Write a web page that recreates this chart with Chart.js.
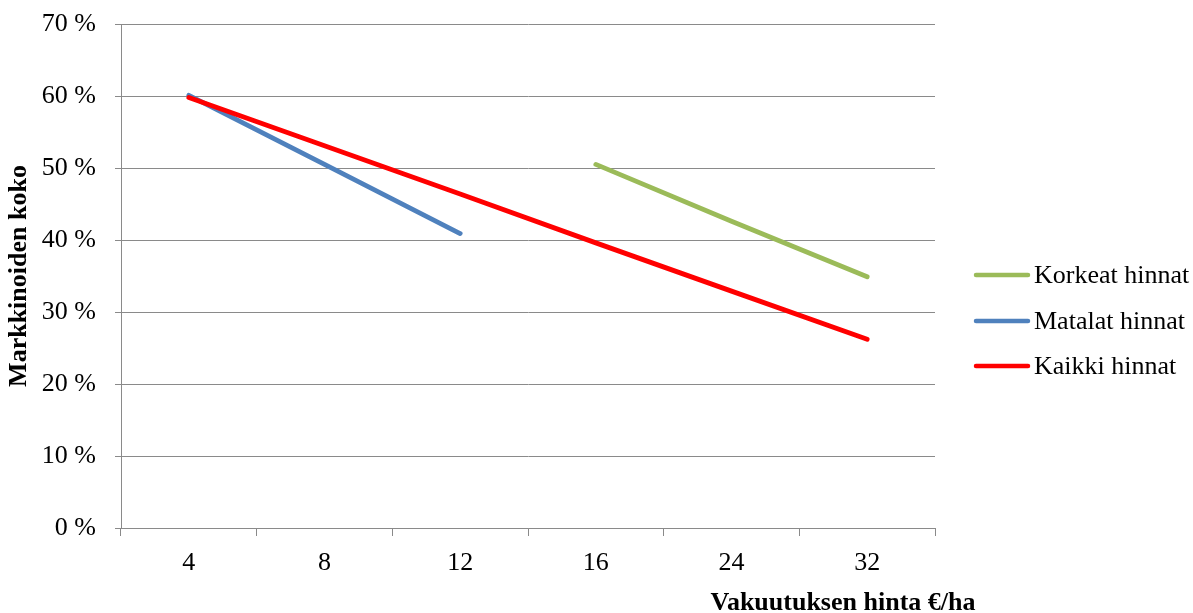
<!DOCTYPE html>
<html lang="fi">
<head>
<meta charset="utf-8">
<title>Markkinoiden koko</title>
<script src="https://cdn.jsdelivr.net/npm/chart.js@4/dist/chart.umd.min.js"></script>
<style>
  html, body { margin: 0; padding: 0; background: #ffffff; }
  #wrap { position: relative; width: 1193px; height: 613px; }
</style>
</head>
<body>
<div id="wrap"><canvas id="c" width="1193" height="613"></canvas></div>
<script>
// Insurance price categories (€/ha)
const categories = ['4', '8', '12', '16', '24', '32'];

// Market size (%) per price level
const korkeatHinnat = [null, null, null, 50.5, 42.6, 34.9];
const matalatHinnat = [60.1, 50.5, 40.9, null, null, null];
const kaikkiHinnat  = [59.8, 53.1, 46.4, 39.6, 32.9, 26.2];

const seriesNames = ['Korkeat hinnat', 'Matalat hinnat', 'Kaikki hinnat'];
const yTicks = [0, 10, 20, 30, 40, 50, 60, 70];

const xTitle = 'Vakuutuksen hinta €/ha';
const yTitle = 'Markkinoiden koko';

const FONT = "'Liberation Serif', 'Times New Roman', Times, serif";
const GRID = '#8a8a8a';

// Titles and legend drawn onto the canvas
const decorations = {
  id: 'decorations',
  afterDraw(chart) {
    const ctx = chart.ctx;
    const area = chart.chartArea;
    ctx.save();
    ctx.fillStyle = '#000000';

    // y-axis title
    ctx.font = 'bold 26px ' + FONT;
    ctx.textAlign = 'center';
    ctx.textBaseline = 'middle';
    ctx.save();
    ctx.translate(19, (area.top + area.bottom) / 2);
    ctx.rotate(-Math.PI / 2);
    ctx.fillText(yTitle, 0, 0);
    ctx.restore();

    // x-axis title
    ctx.fillText(xTitle, 843, 603);

    // legend
    ctx.font = '26px ' + FONT;
    ctx.textAlign = 'left';
    const rows = [275, 321, 366];
    chart.data.datasets.forEach((ds, i) => {
      const y = rows[i];
      ctx.strokeStyle = ds.borderColor;
      ctx.lineWidth = 4.5;
      ctx.lineCap = 'round';
      ctx.beginPath();
      ctx.moveTo(976, y);
      ctx.lineTo(1028, y);
      ctx.stroke();
      ctx.fillText(ds.label, 1034, y + 1);
    });
    ctx.restore();
  }
};

new Chart(document.getElementById('c'), {
  type: 'line',
  data: {
    labels: categories,
    datasets: [
      { label: seriesNames[0], data: korkeatHinnat, borderColor: '#9bbb59', order: 1 },
      { label: seriesNames[1], data: matalatHinnat, borderColor: '#4f81bd', order: 1 },
      { label: seriesNames[2], data: kaikkiHinnat,  borderColor: '#ff0000', order: 0 }
    ]
  },
  options: {
    responsive: false,
    animation: false,
    layout: { padding: { left: 0, top: 24, right: 258, bottom: 0 } },
    datasets: {
      line: {
        borderWidth: 4.8,
        borderCapStyle: 'round',
        borderJoinStyle: 'round',
        pointRadius: 0,
        pointHoverRadius: 0,
        tension: 0,
        spanGaps: false,
        fill: false
      }
    },
    plugins: {
      legend: { display: false },
      tooltip: { enabled: false },
      title: { display: false }
    },
    scales: {
      x: {
        type: 'category',
        offset: true,
        afterFit(scale) {
          scale.height = 85;
          scale.paddingLeft = 0;
          scale.paddingRight = 0;
        },
        grid: {
          offset: true,
          drawOnChartArea: false,
          drawTicks: true,
          tickLength: 8,
          color: GRID,
          lineWidth: 1
        },
        border: { display: true, color: GRID, width: 1 },
        ticks: {
          color: '#000000',
          font: { family: FONT, size: 26 },
          padding: 12,
          maxRotation: 0,
          autoSkip: false
        }
      },
      y: {
        min: 0,
        max: 70,
        afterFit(scale) {
          scale.width = 121;
          scale.paddingTop = 0;
          scale.paddingBottom = 0;
        },
        afterBuildTicks(scale) { scale.ticks = yTicks.map(v => ({ value: v })); },
        grid: {
          color: GRID,
          lineWidth: 1,
          drawTicks: true,
          tickLength: 6
        },
        border: { display: true, color: GRID, width: 1 },
        ticks: {
          color: '#000000',
          font: { family: FONT, size: 26 },
          padding: 19,
          callback: (v) => v + ' %'
        }
      }
    }
  },
  plugins: [decorations]
});
</script>
</body>
</html>
